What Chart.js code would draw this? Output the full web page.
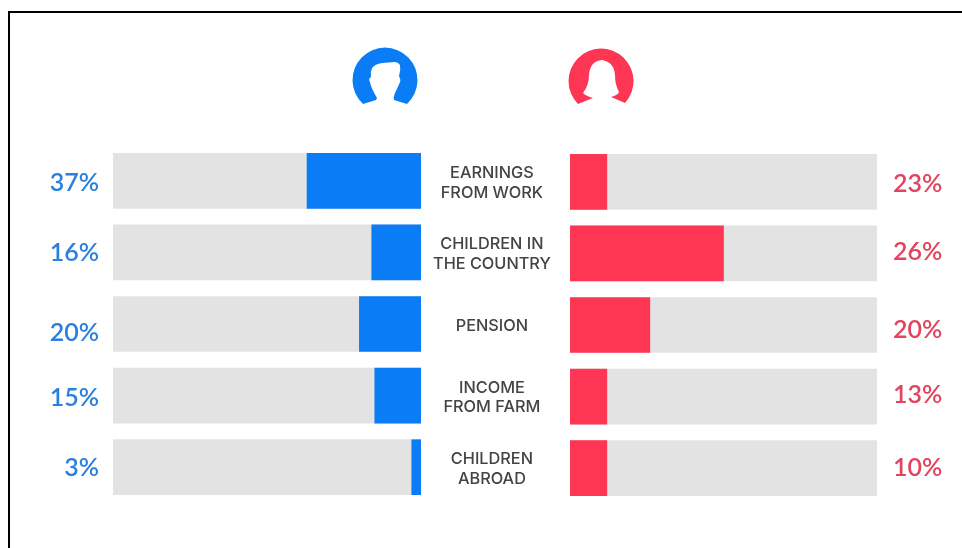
<!DOCTYPE html>
<html>
<head>
<meta charset="utf-8">
<style>
html,body{margin:0;padding:0;background:#fff;width:962px;height:548px;overflow:hidden}
.frame{position:absolute;left:8px;top:11px;width:970px;height:560px;border:2px solid #000;box-sizing:border-box}
canvas{position:absolute;top:0}
.wrap{position:absolute;top:0;height:548px}
svg{position:absolute;left:0;top:0}
</style>
<script src="https://cdn.jsdelivr.net/npm/chart.js@4/dist/chart.umd.min.js"></script>
</head>
<body>
<div class="frame"></div>
<svg width="962" height="548" aria-hidden="true">
<path fill="#0a7cf5" d="M363 104 A32.5 32.5 0 1 1 407 104 L394 100 Q393 97 395 93 Q398 87 400 82 Q401 80 399 76 Q401 70 400 65 Q398 62 395 62 L382 63 Q375 64 372 68 Q370 72 371 77 Q368 79 370 82 Q371 88 377 98 L376 100 Z"/>
<path fill="#ff3554" d="M578 104 A32.5 32.5 0 1 1 625 103 L611 97 Q618 95 619 92 Q615 85 615 75 Q614 62 602 60 Q590 61 589 75 Q589 85 583 93 Q586 96 593 98 Z"/>
</svg>
<div class="wrap" style="left:0;width:562px"><canvas id="left"></canvas></div>
<div class="wrap" style="left:562px;width:400px"><canvas id="right"></canvas></div>
<script>
const categories = [
  ["EARNINGS", "FROM WORK"],
  ["CHILDREN IN", "THE COUNTRY"],
  ["PENSION"],
  ["INCOME", "FROM FARM"],
  ["CHILDREN", "ABROAD"]
];
const maleBars = [37, 16, 20, 15, 3];
const femaleBars = [12, 50, 26, 12, 12];
const maleLabels = ["37%", "16%", "20%", "15%", "3%"];
const femaleLabels = ["23%", "26%", "20%", "13%", "10%"];
const trackValues = [100, 100, 100, 100, 100];

const BLUE = "#0a7cf5", RED = "#ff3554", TRACK = "#e3e3e3";
const BLUE_TEXT = "#2a80dc", RED_TEXT = "#e2445f";
const VALUE_FONT = '600 25px Lato, "Noto Sans", sans-serif';

/* small hand nudges of the value text relative to its row, in px */
const maleNudge = [2, 1, 9, 2, 1];
const femaleNudge = [2, -1, 5, -2, 0];

function valueLabels(texts, nudge, color, side) {
  return {
    id: "valueLabels",
    afterDatasetsDraw(chart) {
      const { ctx, chartArea, scales } = chart;
      ctx.save();
      ctx.font = VALUE_FONT;
      ctx.fillStyle = color;
      ctx.textBaseline = "middle";
      ctx.textAlign = side === "left" ? "right" : "left";
      const x = side === "left" ? chartArea.left - 14 : chartArea.right + 16;
      texts.forEach((t, i) => ctx.fillText(t, x, scales.y.getPixelForValue(i) + nudge[i]));
      ctx.restore();
    }
  };
}

function makeChart(id, values, color, texts, nudge, side, padding) {
  return new Chart(document.getElementById(id), {
    type: "bar",
    data: {
      labels: categories,
      datasets: [
        { data: values, backgroundColor: color, order: 1 },
        { data: trackValues, backgroundColor: TRACK, order: 2 }
      ]
    },
    options: {
      indexAxis: "y",
      responsive: true,
      maintainAspectRatio: false,
      animation: false,
      datasets: { bar: { grouped: false, barThickness: 55, borderWidth: 0 } },
      layout: { padding },
      plugins: { legend: { display: false }, tooltip: { enabled: false } },
      scales: {
        x: { display: false, min: 0, max: 100, reverse: side === "left" },
        y: {
          display: side === "left",
          position: "right",
          afterFit(s) { if (side === "left") s.width = 141; },
          grid: { display: false },
          border: { display: false },
          ticks: {
            color: "#444444",
            crossAlign: "center",
            padding: 4,
            labelOffset: 2,
            font: { family: 'Inter, "Noto Sans", sans-serif', size: 16.3, weight: "500", lineHeight: 1.22 }
          }
        }
      }
    },
    plugins: [valueLabels(texts, nudge, side === "left" ? BLUE_TEXT : RED_TEXT, side)]
  });
}

makeChart("left", maleBars, BLUE, maleLabels, maleNudge, "left", { left: 113, right: 0, top: 145, bottom: 45 });
makeChart("right", femaleBars, RED, femaleLabels, femaleNudge, "right", { left: 8, right: 85, top: 146, bottom: 44 });
</script>
</body>
</html>
